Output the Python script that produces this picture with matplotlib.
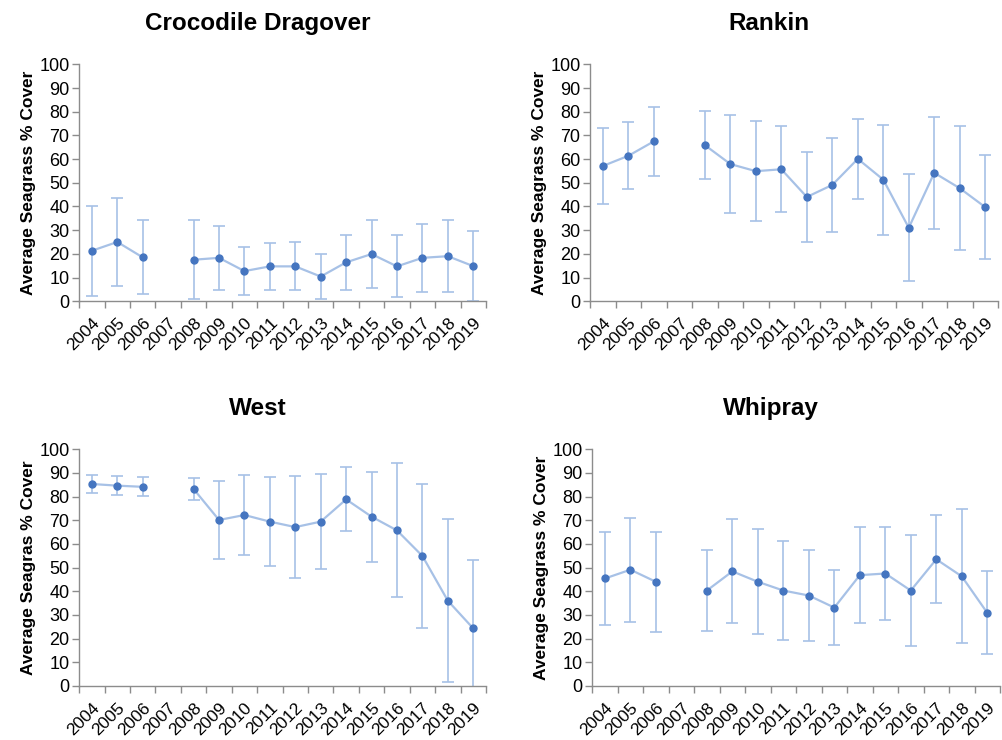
import numpy as np
import matplotlib.pyplot as plt

plt.rcParams['font.family'] = ['Liberation Sans', 'DejaVu Sans']

years = [str(y) for y in range(2004, 2020)]

# mean % cover and standard deviation per year (2007 not surveyed)
croc_mean = [21.3, 25.0, 18.5, np.nan, 17.5, 18.3, 12.7, 14.7, 14.7, 10.4, 16.4, 19.9, 14.7, 18.3, 19.0, 14.8]
croc_sd = [19.0, 18.5, 15.6, np.nan, 16.7, 13.6, 10.2, 9.8, 10.1, 9.4, 11.6, 14.5, 13.1, 14.5, 15.2, 14.8]

rankin_mean = [57.1, 61.4, 67.5, np.nan, 65.9, 57.9, 54.9, 55.7, 44.0, 49.1, 60.1, 51.3, 31.0, 54.2, 47.7, 39.7]
rankin_sd = [16.0, 14.2, 14.5, np.nan, 14.5, 20.7, 21.2, 18.2, 19.0, 20.0, 17.0, 23.3, 22.5, 23.6, 26.2, 21.9]

west_mean = [85.3, 84.6, 84.1, np.nan, 83.2, 70.1, 72.2, 69.4, 67.1, 69.4, 78.8, 71.5, 65.7, 54.9, 36.0, 24.3]
west_sd = [3.6, 4.0, 4.0, np.nan, 4.7, 16.4, 17.0, 18.9, 21.5, 20.0, 13.5, 19.0, 28.3, 30.5, 34.5, 28.9]

whipray_mean = [45.4, 49.1, 44.0, np.nan, 40.3, 48.4, 44.0, 40.3, 38.2, 33.1, 46.8, 47.5, 40.3, 53.5, 46.3, 30.9]
whipray_sd = [19.6, 22.0, 21.0, np.nan, 17.0, 22.0, 22.2, 21.0, 19.2, 16.0, 20.2, 19.5, 23.6, 18.5, 28.3, 17.5]

sites = [
    ("Crocodile Dragover", croc_mean, croc_sd, "Average Seagrass % Cover"),
    ("Rankin", rankin_mean, rankin_sd, "Average Seagrass % Cover"),
    ("West", west_mean, west_sd, "Average Seagras % Cover"),
    ("Whipray", whipray_mean, whipray_sd, "Average Seagrass % Cover"),
]

# axes boxes [left, bottom, width, height]
boxes = [
    [0.079, 0.593, 0.406, 0.320],
    [0.589, 0.593, 0.407, 0.320],
    [0.079, 0.073, 0.406, 0.320],
    [0.591, 0.073, 0.407, 0.320],
]

line_col = '#A7C1E6'
dot_col = '#4575C0'
axis_col = '#8C8C8C'

fig = plt.figure(figsize=(10.02, 7.4), dpi=100)

for (title, mean, sd, ylab), box in zip(sites, boxes):
    ax = fig.add_axes(box)
    x = np.arange(len(years)) + 0.5
    mean = np.array(mean)
    sd = np.array(sd)
    ax.errorbar(x, mean, yerr=sd, fmt='none', ecolor=line_col,
                elinewidth=1.2, capsize=4, capthick=1.2, zorder=2)
    ax.plot(x, mean, color=line_col, lw=1.6, zorder=3)
    ax.plot(x, mean, 'o', color=dot_col, ms=5, zorder=4)

    ax.set_xlim(0, len(years))
    ax.set_ylim(0, 100)
    ax.set_yticks(np.arange(0, 101, 10))
    ax.set_xticks(np.arange(0, len(years) + 1))
    ax.set_xticklabels([])
    ax.set_xticks(x, minor=True)
    ax.set_xticklabels(years, minor=True, rotation=45, ha='right',
                       rotation_mode='anchor', fontsize=12.5)
    ax.tick_params(axis='x', which='minor', length=0, pad=10)
    ax.tick_params(axis='x', which='major', length=5, color=axis_col, width=1)
    ax.tick_params(axis='y', length=5, color=axis_col, width=1, labelsize=13, pad=2)

    for s in ['top', 'right']:
        ax.spines[s].set_visible(False)
    for s in ['left', 'bottom']:
        ax.spines[s].set_color(axis_col)
        ax.spines[s].set_linewidth(1)

    ax.set_ylabel(ylab, fontsize=12.5, fontweight='bold', labelpad=2)
    # chart title sits centred over the whole chart area, a bit left of the plot
    ax.text(0.438, 1.172, title, transform=ax.transAxes, ha='center',
            va='center', fontsize=17.5, fontweight='bold')

fig.savefig('out.png', dpi=100)
